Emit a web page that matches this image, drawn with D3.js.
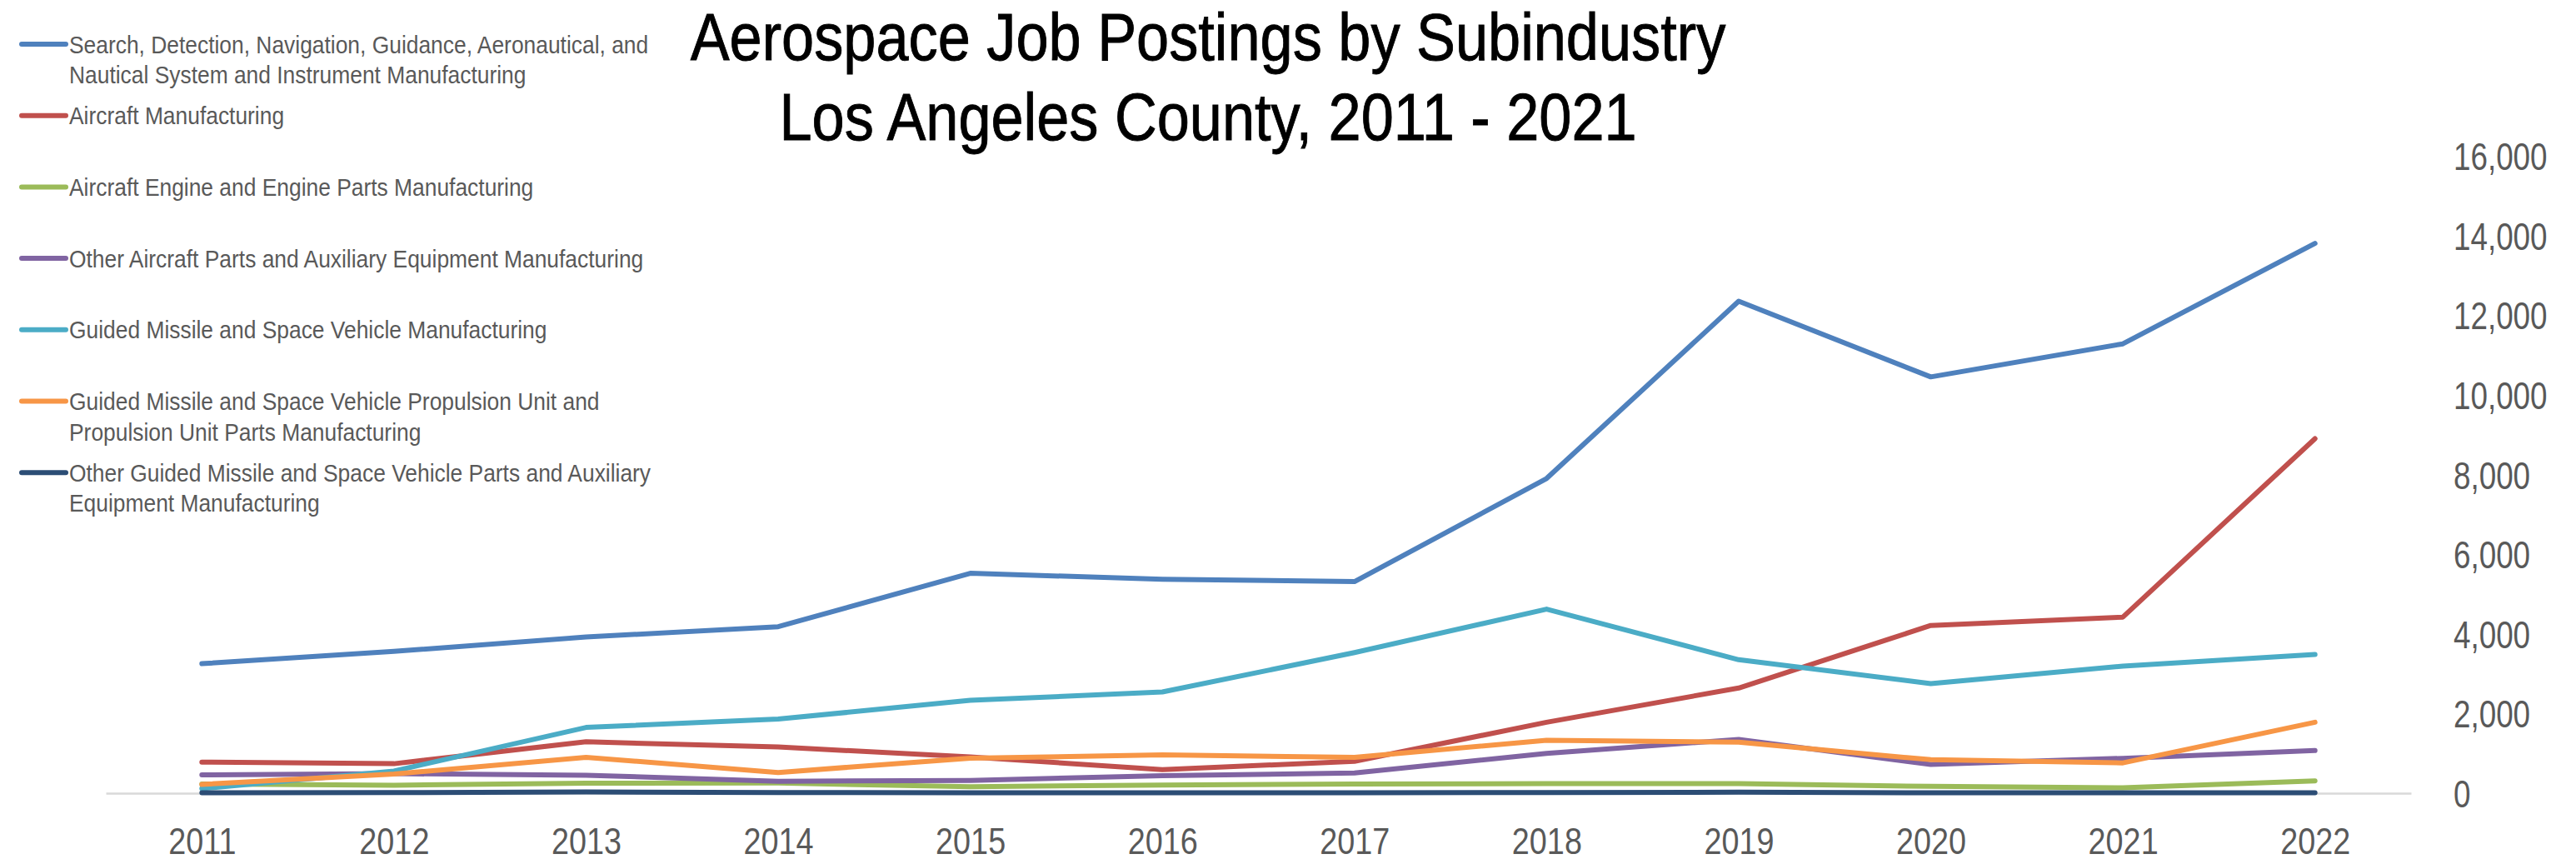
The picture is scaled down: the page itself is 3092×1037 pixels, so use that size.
<!DOCTYPE html>
<html>
<head>
<meta charset="utf-8">
<script src="https://cdn.jsdelivr.net/npm/d3@7"></script>
<style>
  html, body { margin: 0; padding: 0; background: #ffffff; }
  svg { display: block; }
  text { font-family: "Liberation Sans", Arial, sans-serif; }
</style>
</head>
<body>
<svg id="chart" width="3092" height="1037"></svg>
<script>
// ---------- data ----------
const years = ["2011","2012","2013","2014","2015","2016","2017","2018","2019","2020","2021","2022"];

const seriesNames = [
  "Search, Detection, Navigation, Guidance, Aeronautical, and Nautical System and Instrument Manufacturing",
  "Aircraft Manufacturing",
  "Aircraft Engine and Engine Parts Manufacturing",
  "Other Aircraft Parts and Auxiliary Equipment Manufacturing",
  "Guided Missile and Space Vehicle Manufacturing",
  "Guided Missile and Space Vehicle Propulsion Unit and Propulsion Unit Parts Manufacturing",
  "Other Guided Missile and Space Vehicle Parts and Auxiliary Equipment Manufacturing"
];

// legend labels as displayed (line breaks)
const legendLines = [
  ["Search, Detection, Navigation, Guidance, Aeronautical, and", "Nautical System and Instrument Manufacturing"],
  ["Aircraft Manufacturing"],
  ["Aircraft Engine and Engine Parts Manufacturing"],
  ["Other Aircraft Parts and Auxiliary Equipment Manufacturing"],
  ["Guided Missile and Space Vehicle Manufacturing"],
  ["Guided Missile and Space Vehicle Propulsion Unit and", "Propulsion Unit Parts Manufacturing"],
  ["Other Guided Missile and Space Vehicle Parts and Auxiliary", "Equipment Manufacturing"]
];

const searchNav      = [3250, 3560, 3920, 4180, 5520, 5370, 5310, 7900, 12350, 10450, 11280, 13800];
const aircraft       = [780, 740, 1290, 1160, 910, 590, 800, 1780, 2640, 4210, 4420, 8900];
const engine         = [230, 200, 250, 255, 160, 205, 230, 240, 240, 170, 135, 310];
const otherAircraft  = [460, 490, 450, 300, 320, 440, 505, 1000, 1350, 720, 875, 1070];
const missile        = [115, 555, 1650, 1860, 2330, 2540, 3530, 4620, 3350, 2750, 3190, 3480];
const propulsion     = [220, 480, 900, 520, 880, 960, 900, 1330, 1280, 840, 760, 1780];
const otherMissile   = [10, 15, 30, 15, 10, 10, 10, 15, 25, 10, 10, 10];

const seriesValues = [searchNav, aircraft, engine, otherAircraft, missile, propulsion, otherMissile];
const seriesColors = ["#4F81BD", "#C0504D", "#9BBB59", "#8064A2", "#4BACC6", "#F79646", "#2C4D75"];

const yTicks = [0, 2000, 4000, 6000, 8000, 10000, 12000, 14000, 16000];
const titleLines = ["Aerospace Job Postings by Subindustry", "Los Angeles County, 2011 - 2021"];

// ---------- layout ----------
const svg = d3.select("#chart");
const textGray = "#595959";
const axisNarrow = 0.84;   // horizontal compression emulating a narrow face
const legendNarrow = 0.91;
const titleNarrow = 0.89;

const x = d3.scalePoint().domain(years).range([127, 2894]).padding(0.5);
const y = d3.scaleLinear().domain([0, 16000]).range([952, 187]);

// baseline / x axis
const xAxis = svg.append("g")
  .attr("transform", `translate(0,${y(0)})`)
  .call(d3.axisBottom(x).tickSize(0).tickSizeOuter(0).tickPadding(0));
xAxis.select(".domain").attr("stroke", "#D9D9D9").attr("stroke-width", 2.5);
xAxis.selectAll("text")
  .attr("y", 73)
  .attr("dy", null)
  .attr("transform", `scale(${axisNarrow},1)`)
  .attr("fill", textGray)
  .style("font-size", "45px")
  .style("font-family", '"Liberation Sans", Arial, sans-serif');

// y axis on the right
const yAxis = svg.append("g")
  .attr("transform", `translate(2945,0)`)
  .call(d3.axisRight(y).tickValues(yTicks).tickFormat(d3.format(",")).tickSize(0).tickPadding(0));
yAxis.select(".domain").remove();
yAxis.selectAll("text")
  .attr("x", 0)
  .attr("dy", "0.36em")
  .attr("transform", "scale(0.8,1)")
  .attr("fill", textGray)
  .style("font-size", "46px")
  .style("font-family", '"Liberation Sans", Arial, sans-serif');

// lines
const line = d3.line()
  .x((d, i) => x(years[i]))
  .y(d => y(d));

svg.append("g")
  .selectAll("path")
  .data(seriesValues)
  .join("path")
  .attr("d", d => line(d))
  .attr("fill", "none")
  .attr("stroke", (d, i) => seriesColors[i])
  .attr("stroke-width", 6)
  .attr("stroke-linejoin", "round")
  .attr("stroke-linecap", "round");

// title
const titleG = svg.append("g").attr("transform", `translate(1450,0) scale(${titleNarrow},1)`);
titleG.append("text")
  .attr("x", 0)
  .attr("y", 72)
  .attr("text-anchor", "middle")
  .attr("fill", "#000000")
  .attr("stroke", "#000000")
  .attr("stroke-width", 0.9)
  .style("font-size", "79px")
  .selectAll("tspan")
  .data(titleLines)
  .join("tspan")
  .attr("x", 0)
  .attr("dy", (d, i) => i === 0 ? 0 : 96)
  .text(d => d);

// legend
const legend = svg.append("g");
const items = legend.selectAll("g")
  .data(seriesNames)
  .join("g")
  .attr("transform", (d, i) => `translate(0,${53 + i * 85.7})`);
items.append("line")
  .attr("x1", 26).attr("x2", 79)
  .attr("y1", 0).attr("y2", 0)
  .attr("stroke", (d, i) => seriesColors[i])
  .attr("stroke-width", 6)
  .attr("stroke-linecap", "round");
items.append("g")
  .attr("transform", `translate(83,0) scale(${legendNarrow},1)`)
  .append("text")
  .attr("x", 0)
  .attr("y", 10.5)
  .attr("fill", textGray)
  .style("font-size", "29px")
  .selectAll("tspan")
  .data((d, i) => legendLines[i])
  .join("tspan")
  .attr("x", 0)
  .attr("dy", (d, i) => i === 0 ? 0 : 36.7)
  .text(d => d);
</script>
</body>
</html>
